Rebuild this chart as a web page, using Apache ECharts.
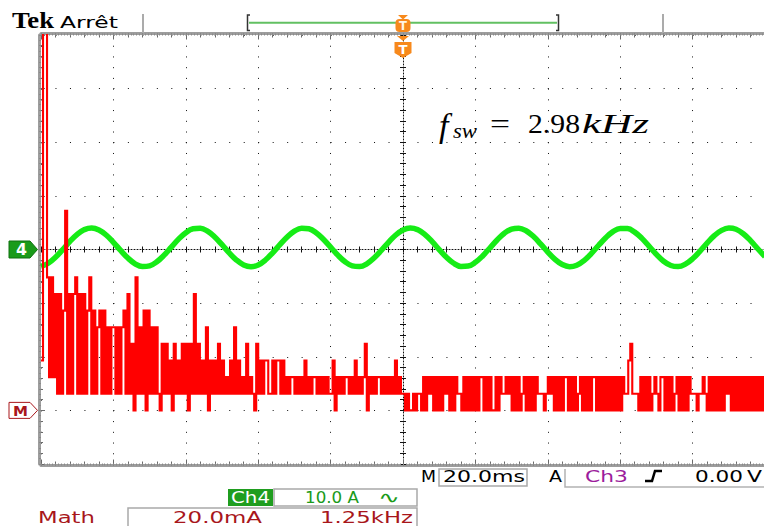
<!DOCTYPE html>
<html lang="fr">
<head>
<meta charset="utf-8">
<title>Ch4 / Math</title>
<script src="https://cdn.jsdelivr.net/npm/echarts@6.0.0/dist/echarts.min.js"></script>
<style>
  html, body { margin: 0; padding: 0; background: #fff; }
  #scope { width: 764px; height: 526px; }
</style>
</head>
<body>
<div id="scope"></div>
<script>
// ---- acquisition settings ----
const timeDivMs = 20;        // M 20.0ms
const timeDivs = 10;
const vertDivs = 8;
const ch4AmpsPerDiv = 10;    // Ch4 10.0 A
const mathMaPerDiv = 20;     // Math 20.0mA
const mathRefDiv = -3;       // M reference marker, in divisions from centre

// ---- Ch4 current (A), one sample every 2 ms ----
const ch4SampleMs = 2;
const ch4Amps = [
  -3.15, -2.57, -1.46, -0.02, 1.50, 2.82, 3.71, 4.00, 3.64, 2.70,
   1.35, -0.18, -1.60, -2.66, -3.17, -3.04, -2.29, -1.06, 0.44, 1.93,
   3.14, 3.86, 3.96, 3.42, 2.33, 0.89, -0.63, -1.97, -2.88, -3.20,
  -2.88, -1.96, -0.62, 0.90, 2.33, 3.42, 3.96, 3.86, 3.14, 1.92,
   0.44, -1.06, -2.29, -3.04, -3.17, -2.66, -1.59, -0.18, 1.35, 2.70,
   3.64, 4.00, 3.71, 2.82, 1.50, -0.02, -1.46, -2.57, -3.15, -3.08,
  -2.39, -1.20, 0.28, 1.78, 3.04, 3.82, 3.98, 3.50, 2.46, 1.05,
  -0.48, -1.85, -2.81, -3.20, -2.94, -2.08, -0.77, 0.75, 2.20, 3.33,
   3.93, 3.90, 3.24, 2.07, 0.59, -0.91, -2.19, -2.99, -3.19, -2.74,
  -1.73, -0.33, 1.20, 2.58, 3.57, 3.99, 3.77, 2.94, 1.65, 0.14,
  -1.33
];

// ---- Math trace: quantised level per sample (base-36 digit), one string per division ----
const mathSamplesPerDiv = 36;
const mathStepMa = 6.2;      // mA per quantisation level
const mathLevels = [
  "3nn828271716c17178171716816156161515",
  "515156171408151606151510414130413141",
  "404171413150313141312131513121412104",
  "131331131331312122121213121221212121",
  "130212122121312124021212212121213121",
  "101001011020212020202120202110202020",
  "202202020020211212020201202020211101",
  "212020202202020120202022020202020202",
  "021134111020202012102202020120202021",
  "110112102020202021202020202020202020"
];

// ---- build series data ----
const ch4Data = ch4Amps.map((a, i) => [i * ch4SampleMs, a]);
const mathSampleMs = timeDivMs / mathSamplesPerDiv;
const mathData = [];
mathLevels.forEach((row, d) => {
  for (let k = 0; k < row.length; k++) {
    mathData.push([d * timeDivMs + k * mathSampleMs, parseInt(row[k], 36) * mathStepMa]);
  }
});
mathData.push([timeDivs * timeDivMs, mathData[mathData.length - 1][1]]);

const tMax = timeDivs * timeDivMs;
const ch4Half = vertDivs / 2 * ch4AmpsPerDiv;
const mathMin = (-vertDivs / 2 - mathRefDiv) * mathMaPerDiv;
const mathMax = (vertDivs / 2 - mathRefDiv) * mathMaPerDiv;

const RULER = '#9d9d9d';
const TICK = '#6a6a6a';
const DOT = '#111';

function xAx(extra) {
  return Object.assign({
    type: 'value', min: 0, max: tMax, interval: timeDivMs,
    axisLabel: { show: false }, splitLine: { show: false }
  }, extra);
}
function yAx(extra) {
  return Object.assign({
    type: 'value', min: -ch4Half, max: ch4Half, interval: ch4AmpsPerDiv,
    axisLabel: { show: false }, splitLine: { show: false }
  }, extra);
}

const chart = echarts.init(document.getElementById('scope'), null, { renderer: 'svg' });

chart.setOption({
  animation: false,
  backgroundColor: '#fff',
  grid: { left: 41, top: 35, width: 724, height: 429, containLabel: false, outerBoundsMode: 'none' },
  xAxis: [
    // 0: bottom ruler + vertical dotted graticule
    xAx({ position: 'bottom', offset: 1.5,
      axisLine: { show: true, onZero: false, lineStyle: { color: RULER, width: 3 } },
      axisTick: { show: true, inside: true, length: 6, lineStyle: { color: TICK } },
      minorTick: { show: true, splitNumber: 5, length: 4, lineStyle: { color: TICK } },
      splitLine: { show: true, lineStyle: { color: DOT, width: 1, type: [1, 9.725] } } }),
    // 1: bottom ruler fine ticks
    xAx({ position: 'bottom', offset: 1.5,
      axisLine: { show: false, onZero: false },
      axisTick: { show: true, inside: true, length: 2, lineStyle: { color: '#8a8a8a' } },
      minorTick: { show: true, splitNumber: 25, length: 2, lineStyle: { color: '#8a8a8a' } } }),
    // 2: top ruler
    xAx({ position: 'top', offset: 1.5,
      axisLine: { show: true, onZero: false, lineStyle: { color: RULER, width: 3 } },
      axisTick: { show: true, inside: true, length: 6, lineStyle: { color: TICK } },
      minorTick: { show: true, splitNumber: 5, length: 4, lineStyle: { color: TICK } } }),
    // 3: top ruler fine ticks
    xAx({ position: 'top', offset: 1.5,
      axisLine: { show: false, onZero: false },
      axisTick: { show: true, inside: true, length: 2, lineStyle: { color: '#8a8a8a' } },
      minorTick: { show: true, splitNumber: 25, length: 2, lineStyle: { color: '#8a8a8a' } } }),
    // 4: centre horizontal line, ticks downward
    xAx({ position: 'bottom',
      axisLine: { show: true, onZero: true, onZeroAxisIndex: 0, lineStyle: { color: DOT, width: 1, type: [1, 2] } },
      axisTick: { show: true, length: 3, lineStyle: { color: DOT } },
      minorTick: { show: true, splitNumber: 5, length: 3, lineStyle: { color: DOT } } }),
    // 5: centre horizontal line, ticks upward
    xAx({ position: 'top',
      axisLine: { show: false, onZero: true, onZeroAxisIndex: 0 },
      axisTick: { show: true, length: 3, lineStyle: { color: DOT } },
      minorTick: { show: true, splitNumber: 5, length: 3, lineStyle: { color: DOT } } }),
    // 6: symmetric time reference for the centre vertical line
    { type: 'value', min: -tMax / 2, max: tMax / 2, show: false }
  ],
  yAxis: [
    // 0: left ruler + horizontal dotted graticule (Ch4 scale)
    yAx({ position: 'left', offset: 2,
      axisLine: { show: true, onZero: false, lineStyle: { color: RULER, width: 3 } },
      axisTick: { show: true, inside: true, length: 6, lineStyle: { color: TICK } },
      minorTick: { show: true, splitNumber: 5, length: 4, lineStyle: { color: TICK } },
      splitLine: { show: true, lineStyle: { color: DOT, width: 1, type: [1, 13.48] } } }),
    // 1: left ruler fine ticks
    yAx({ position: 'left', offset: 2,
      axisLine: { show: false, onZero: false },
      axisTick: { show: true, inside: true, length: 2, lineStyle: { color: '#8a8a8a' } },
      minorTick: { show: true, splitNumber: 10, length: 2, lineStyle: { color: '#8a8a8a' } } }),
    // 2: centre vertical line, ticks leftward
    yAx({ position: 'left',
      axisLine: { show: true, onZero: true, onZeroAxisIndex: 6, lineStyle: { color: DOT, width: 1, type: [1, 2] } },
      axisTick: { show: true, length: 3, lineStyle: { color: DOT } },
      minorTick: { show: true, splitNumber: 5, length: 3, lineStyle: { color: DOT } } }),
    // 3: centre vertical line, ticks rightward
    yAx({ position: 'right',
      axisLine: { show: false, onZero: true, onZeroAxisIndex: 6 },
      axisTick: { show: true, length: 3, lineStyle: { color: DOT } },
      minorTick: { show: true, splitNumber: 5, length: 3, lineStyle: { color: DOT } } }),
    // 4: Math scale (mA)
    { type: 'value', min: mathMin, max: mathMax, interval: mathMaPerDiv, show: false }
  ],
  series: [
    {
      type: 'line', name: 'Ch4', xAxisIndex: 0, yAxisIndex: 0,
      data: ch4Data, smooth: 0.4, symbol: 'none', silent: true, z: 3,
      lineStyle: { color: '#16ec16', width: 5.5 }
    },
    {
      type: 'line', name: 'Math', xAxisIndex: 0, yAxisIndex: 4,
      data: mathData, step: 'end', symbol: 'none', silent: true, z: 4, clip: true,
      lineStyle: { color: '#ff0000', width: 2.1, join: 'miter' }
    }
  ]
});

// ---- screen annotations ----
const measureCtx = document.createElement('canvas').getContext('2d');
// Text whose ink is stretched to run from x0 to x1 (scope fonts are wide);
// pass x1 = null to keep the natural width.
function label(str, x0, x1, baseline, font, color) {
  measureCtx.font = font;
  const w = measureCtx.measureText(str).width || 1;
  const size = parseFloat(font.match(/(\d+(?:\.\d+)?)px/)[1]);
  return {
    type: 'text', x: x0, y: baseline - 0.345 * size,
    scaleX: x1 == null ? 1 : (x1 - x0) / w, silent: true, z: 20,
    style: { text: str, font: font, fill: color, align: 'left', verticalAlign: 'middle',
             textAlign: 'left', textVerticalAlign: 'middle' }
  };
}
function poly(points, fill, stroke, lw) {
  return { type: 'polygon', silent: true, z: 18, shape: { points: points },
           style: { fill: fill, stroke: stroke || null, lineWidth: lw || 0 } };
}
function pline(points, stroke, lw) {
  return { type: 'polyline', silent: true, z: 18, shape: { points: points },
           style: { fill: null, stroke: stroke, lineWidth: lw } };
}
function box(x, y, w, h, stroke, fill) {
  return { type: 'rect', silent: true, z: 17, shape: { x: x, y: y, width: w, height: h },
           style: { fill: fill || null, stroke: stroke || null, lineWidth: 1.5 } };
}

const SCOPE_FONT = '16px "DejaVu Sans"';
const GREEN_TXT = '#1a9a1a';
const MATH_TXT = '#a8161b';
const PURPLE = '#9c1d9c';
const ORANGE = '#f7891c';

const yCh4 = chart.convertToPixel({ yAxisIndex: 0 }, 0);
const yMath = chart.convertToPixel({ yAxisIndex: 4 }, 0);
const xTrig = chart.convertToPixel({ xAxisIndex: 0 }, tMax / 2);

const els = [
  // header
  label('Tek', 12, 54, 28, 'bold 23px "Liberation Serif"', '#000'),
  label('Arrêt', 60, 118, 28, SCOPE_FONT, '#000'),
  pline([[143, 14], [143, 33]], '#ababab', 2),
  pline([[663, 14], [663, 33]], '#ababab', 2),
  pline([[250, 15], [247.5, 15], [247.5, 30.5], [250, 30.5]], '#333', 1.5),
  pline([[556, 15], [558.5, 15], [558.5, 30.5], [556, 30.5]], '#333', 1.5),
  pline([[249, 22.8], [557, 22.8]], '#62c062', 2),

  // trigger position markers
  poly([[xTrig - 5, 15], [xTrig + 5, 15], [xTrig, 19.5]], ORANGE),
  { type: 'rect', silent: true, z: 18, shape: { x: xTrig - 7.5, y: 19, width: 15, height: 13, r: 4 },
    style: { fill: ORANGE } },
  label('T', xTrig - 4, xTrig + 4, 30, 'bold 12px "DejaVu Sans"', '#fff4e6'),
  poly([[xTrig - 6, 36], [xTrig + 6, 36], [xTrig, 41]], ORANGE),
  poly([[xTrig - 8.5, 42], [xTrig + 8.5, 42], [xTrig + 8.5, 53], [xTrig, 58], [xTrig - 8.5, 53]], ORANGE),
  label('T', xTrig - 4.5, xTrig + 4.5, 54, 'bold 13px "DejaVu Sans"', '#fff'),

  // channel reference markers
  poly([[9, yCh4 - 8.5], [30, yCh4 - 8.5], [37.5, yCh4], [30, yCh4 + 8.5], [9, yCh4 + 8.5]], '#1a9b1a', '#0f700f', 1),
  label('4', 16, 27, yCh4 + 6, 'bold 15px "DejaVu Sans"', '#fff'),
  poly([[9, yMath - 8], [30, yMath - 8], [37.5, yMath], [30, yMath + 8], [9, yMath + 8]], '#fff', '#a8161b', 1),
  label('M', 13, 28, yMath + 5.5, 'bold 14px "DejaVu Sans"', MATH_TXT),

  // switching frequency annotation
  label('f', 439, null, 137, 'italic 34px "Liberation Serif"', '#000'),
  label('sw', 453, 477, 139, 'italic 21px "Liberation Serif"', '#000'),
  label('=', 490, 510, 133, '28px "Liberation Serif"', '#000'),
  label('2.98', 528, 580, 133, '28px "Liberation Serif"', '#000'),
  label('kHz', 582, 649, 133, 'italic 28px "Liberation Serif"', '#000'),

  // status line: timebase and trigger
  label('M', 421, 436, 482, SCOPE_FONT, '#000'),
  box(439, 469, 88, 17, '#a9a9a9'),
  label('20.0ms', 443, 525, 482, SCOPE_FONT, '#000'),
  label('A', 549, 562, 482, SCOPE_FONT, '#000'),
  pline([[565, 469], [565, 487], [764, 487]], '#b2b2b2', 1.5),
  label('Ch3', 585, 628, 482, SCOPE_FONT, PURPLE),
  pline([[645, 481], [652, 481], [655, 471], [662, 471]], '#000', 2.5),
  label('0.00', 695, 743, 482, SCOPE_FONT, '#000'),
  label('V', 747, 762, 482, SCOPE_FONT, '#000'),

  // status line: channel scales
  box(228, 489, 45, 17, null, '#1f9d1f'),
  label('Ch4', 231, 270, 503, SCOPE_FONT, '#fff'),
  box(274, 489, 143, 17, '#a9a9a9'),
  label('10.0 A', 305, 359, 503, SCOPE_FONT, GREEN_TXT),
  label('\u223F', 378, 400, 503, SCOPE_FONT, GREEN_TXT),
  label('Math', 38, 95, 523, SCOPE_FONT, MATH_TXT),
  box(128, 508, 289, 22, '#a9a9a9'),
  label('20.0mA', 173, 262, 523, SCOPE_FONT, MATH_TXT),
  label('1.25kHz', 320, 413, 523, SCOPE_FONT, MATH_TXT)
];

chart.setOption({ graphic: { elements: els } });
</script>
</body>
</html>
